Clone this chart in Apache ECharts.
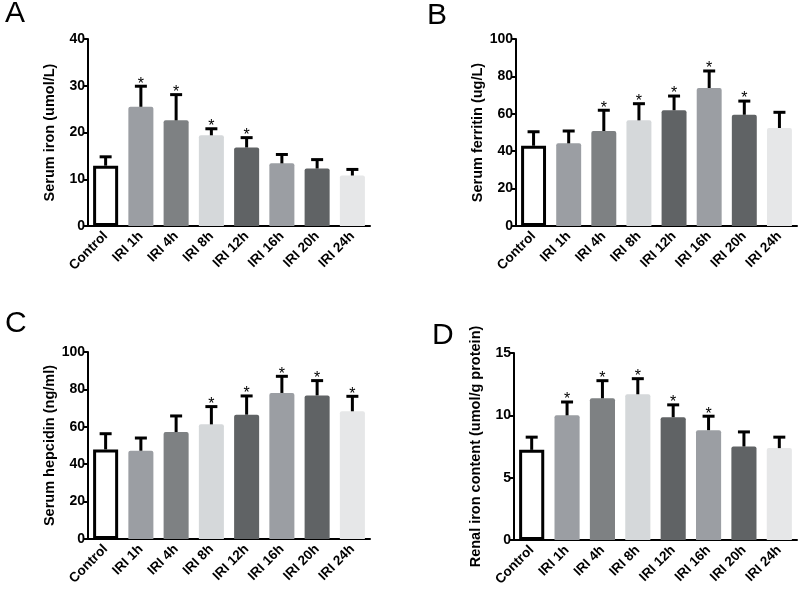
<!DOCTYPE html>
<html>
<head>
<meta charset="utf-8">
<script src="https://cdn.jsdelivr.net/npm/echarts@6/dist/echarts.min.js"></script>
<style>
  html, body { margin: 0; padding: 0; background: #fff; }
  #chart { width: 800px; height: 594px; }
</style>
</head>
<body>
<div id="chart"></div>
<script>
// group names on the x axis
const groups = ['Control', 'IRI 1h', 'IRI 4h', 'IRI 8h', 'IRI 12h', 'IRI 16h', 'IRI 20h', 'IRI 24h'];
const barColors = ['#ffffff', '#9b9ea3', '#7e8183', '#d5d8da', '#606365', '#9b9ea3', '#606365', '#e6e7e8'];

// A - serum iron
const ironMean = [12.9, 25.5, 22.6, 19.4, 16.8, 13.4, 12.3, 10.8];
const ironTop  = [14.8, 29.9, 28.1, 20.8, 18.9, 15.3, 14.2, 12.1];
const ironSig  = [0, 1, 1, 1, 1, 0, 0, 0];

// B - serum ferritin
const ferritinMean = [42.9, 44.2, 50.8, 56.5, 61.9, 73.8, 59.5, 52.4];
const ferritinTop  = [50.4, 50.8, 61.9, 65.4, 69.5, 82.9, 66.8, 60.8];
const ferritinSig  = [0, 0, 1, 1, 1, 1, 1, 0];

// C - serum hepcidin
const hepcidinMean = [47.9, 47.2, 57.2, 61.3, 66.5, 78.1, 76.8, 68.3];
const hepcidinTop  = [56.3, 54.0, 65.8, 70.8, 76.5, 87.0, 84.7, 76.3];
const hepcidinSig  = [0, 0, 0, 1, 1, 1, 1, 1];

// D - renal iron content
const renalMean = [7.23, 10.0, 11.37, 11.69, 9.85, 8.81, 7.5, 7.37];
const renalTop  = [8.25, 11.07, 12.78, 12.94, 10.84, 9.93, 8.67, 8.25];
const renalSig  = [0, 1, 1, 1, 1, 1, 0, 0];

const FONT = '"Liberation Sans", Arial, Helvetica, sans-serif';

const panels = [
  { letter: 'A', grid: { left: 88, top: 39, width: 282, height: 187 }, max: 40, interval: 10,
    name: 'Serum iron (umol/L)', mean: ironMean, top: ironTop, sig: ironSig, lx: 5, ly: -1 },
  { letter: 'B', grid: { left: 516, top: 39, width: 281, height: 187 }, max: 100, interval: 20,
    name: 'Serum ferritin (ug/L)', mean: ferritinMean, top: ferritinTop, sig: ferritinSig, lx: 427, ly: 1 },
  { letter: 'C', grid: { left: 88, top: 352, width: 282, height: 187 }, max: 100, interval: 20,
    name: 'Serum hepcidin (ng/ml)', mean: hepcidinMean, top: hepcidinTop, sig: hepcidinSig, lx: 5, ly: 309 },
  { letter: 'D', grid: { left: 514, top: 353, width: 283, height: 187 }, max: 15, interval: 5,
    name: 'Renal iron content (umol/g protein)', mean: renalMean, top: renalTop, sig: renalSig, lx: 432, ly: 321 }
];

function errorBar(params, api) {
  const x = api.value(0);
  const hi = api.coord([x, api.value(2)]);
  const lo = api.coord([x, api.value(1)]);
  const kids = [
    { type: 'line', shape: { x1: hi[0], y1: hi[1], x2: lo[0], y2: lo[1] }, style: { stroke: '#000', lineWidth: 3 } },
    { type: 'line', shape: { x1: hi[0] - 6, y1: hi[1], x2: hi[0] + 6, y2: hi[1] }, style: { stroke: '#000', lineWidth: 3 } }
  ];
  if (api.value(3)) {
    kids.push({ type: 'text', x: hi[0], y: hi[1] - 2,
      style: { text: '*', font: '16px ' + FONT, fill: '#000', align: 'center', verticalAlign: 'middle' } });
  }
  return { type: 'group', children: kids };
}

const option = { animation: false, grid: [], xAxis: [], yAxis: [], series: [], graphic: [] };

panels.forEach(function (p, i) {
  option.grid.push(p.grid);
  option.xAxis.push({
    type: 'category', gridIndex: i, data: groups,
    axisLine: { lineStyle: { color: '#000', width: 2 } },
    axisTick: { alignWithLabel: true, length: 5, lineStyle: { width: 2, color: '#000' } },
    axisLabel: { rotate: 45, interval: 0, color: '#000', fontWeight: 'bold', fontSize: 13.5, fontFamily: FONT, margin: 8 }
  });
  option.yAxis.push({
    type: 'value', gridIndex: i, min: 0, max: p.max, interval: p.interval,
    name: p.name, nameLocation: 'middle', nameGap: 31,
    nameTextStyle: { color: '#000', fontWeight: 'bold', fontSize: 14.5, fontFamily: FONT },
    splitLine: { show: false },
    axisLine: { show: true, lineStyle: { color: '#000', width: 2 } },
    axisTick: { show: true, length: 5, lineStyle: { width: 2, color: '#000' } },
    axisLabel: { color: '#000', fontWeight: 'bold', fontSize: 14, fontFamily: FONT, margin: 3 }
  });
  option.series.push({
    type: 'bar', xAxisIndex: i, yAxisIndex: i, barWidth: '71%',
    data: p.mean.map(function (v, k) {
      return {
        value: v,
        itemStyle: k === 0
          ? { color: '#fff', borderColor: '#000', borderWidth: 3 }
          : { color: barColors[k], borderRadius: [2, 2, 0, 0] }
      };
    })
  });
  option.series.push({
    type: 'custom', xAxisIndex: i, yAxisIndex: i, renderItem: errorBar, z: 5,
    data: p.mean.map(function (v, k) { return [k, v, p.top[k], p.sig[k]]; })
  });
  option.graphic.push({
    type: 'text', left: p.lx, top: p.ly,
    style: { text: p.letter, font: '30px ' + FONT, fill: '#000' }
  });
});

const chart = echarts.init(document.getElementById('chart'));
chart.setOption(option);
</script>
</body>
</html>
